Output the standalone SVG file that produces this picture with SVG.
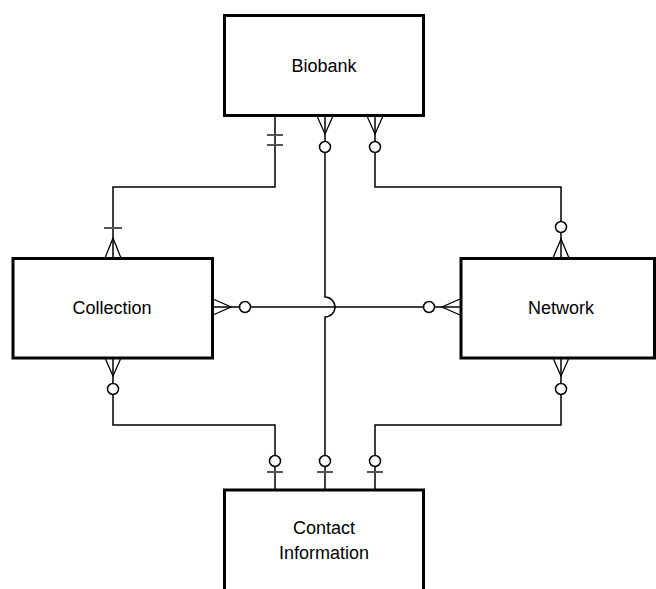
<svg xmlns="http://www.w3.org/2000/svg" width="656" height="589" viewBox="0 0 656 589">
<style>
.box{fill:#fff;stroke:#000;stroke-width:3}
.lbl{font-family:"Liberation Sans",Arial,sans-serif;font-size:18px;fill:#000;text-anchor:middle}
.ln{fill:none;stroke:#000;stroke-width:1.5}
.tk{fill:none;stroke:#555;stroke-width:2}
.cf{fill:none;stroke:#000;stroke-width:1.3}
.oc{fill:#fff;stroke:#000;stroke-width:1.5}
</style>
<rect width="656" height="589" fill="#fff"/>
<g id="connectors">
  <!-- Biobank - Collection -->
  <path class="ln" d="M275,116 V187 H113 V258"/>
  <path class="tk" d="M267,135 H283 M267,145 H283"/>
  <path class="tk" d="M104,228 H122"/>
  <path class="cf" d="M105,258 L113,238 L121,258"/>
  <!-- Biobank - Network -->
  <path class="ln" d="M375,116 V187 H561 V258"/>
  <path class="cf" d="M367,116 L375,134 L383,116"/>
  <circle class="oc" cx="375" cy="147" r="5.5"/>
  <circle class="oc" cx="561" cy="227" r="5.5"/>
  <path class="cf" d="M553,258 L561,239 L569,258"/>
  <!-- Biobank - Contact -->
  <path class="ln" d="M325,116 V297 A10,10 0 0 1 325,317 V490"/>
  <path class="cf" d="M317,116 L325,134 L333,116"/>
  <circle class="oc" cx="325" cy="147" r="5.5"/>
  <circle class="oc" cx="325" cy="461" r="5.5"/>
  <path class="tk" d="M317,472 H333"/>
  <!-- Collection - Network -->
  <path class="ln" d="M213,307 H460"/>
  <path class="cf" d="M213,299 L231,307 L213,315"/>
  <circle class="oc" cx="245" cy="307" r="5.5"/>
  <path class="cf" d="M460,299 L442,307 L460,315"/>
  <circle class="oc" cx="429" cy="307" r="5.5"/>
  <!-- Collection - Contact -->
  <path class="ln" d="M113,358 V425 H275 V490"/>
  <path class="cf" d="M105,358 L113,376 L121,358"/>
  <circle class="oc" cx="113" cy="389" r="5.5"/>
  <circle class="oc" cx="275" cy="461" r="5.5"/>
  <path class="tk" d="M267,472 H283"/>
  <!-- Network - Contact -->
  <path class="ln" d="M561,358 V425 H375 V490"/>
  <path class="cf" d="M553,358 L561,376 L569,358"/>
  <circle class="oc" cx="561" cy="389" r="5.5"/>
  <circle class="oc" cx="375" cy="461" r="5.5"/>
  <path class="tk" d="M367,472 H383"/>
</g>
<g id="biobank">
  <rect class="box" x="224.5" y="15.5" width="199" height="100"/>
  <text class="lbl" x="324" y="72">Biobank</text>
</g>
<g id="collection">
  <rect class="box" x="13" y="258.5" width="199.5" height="99.5"/>
  <text class="lbl" x="112" y="314">Collection</text>
</g>
<g id="network">
  <rect class="box" x="461" y="258.5" width="193.5" height="99.5"/>
  <text class="lbl" x="561" y="314">Network</text>
</g>
<g id="contact">
  <rect class="box" x="224.5" y="490" width="199" height="110"/>
  <text class="lbl" x="324" y="534">Contact</text>
  <text class="lbl" x="324" y="559">Information</text>
</g>
</svg>
